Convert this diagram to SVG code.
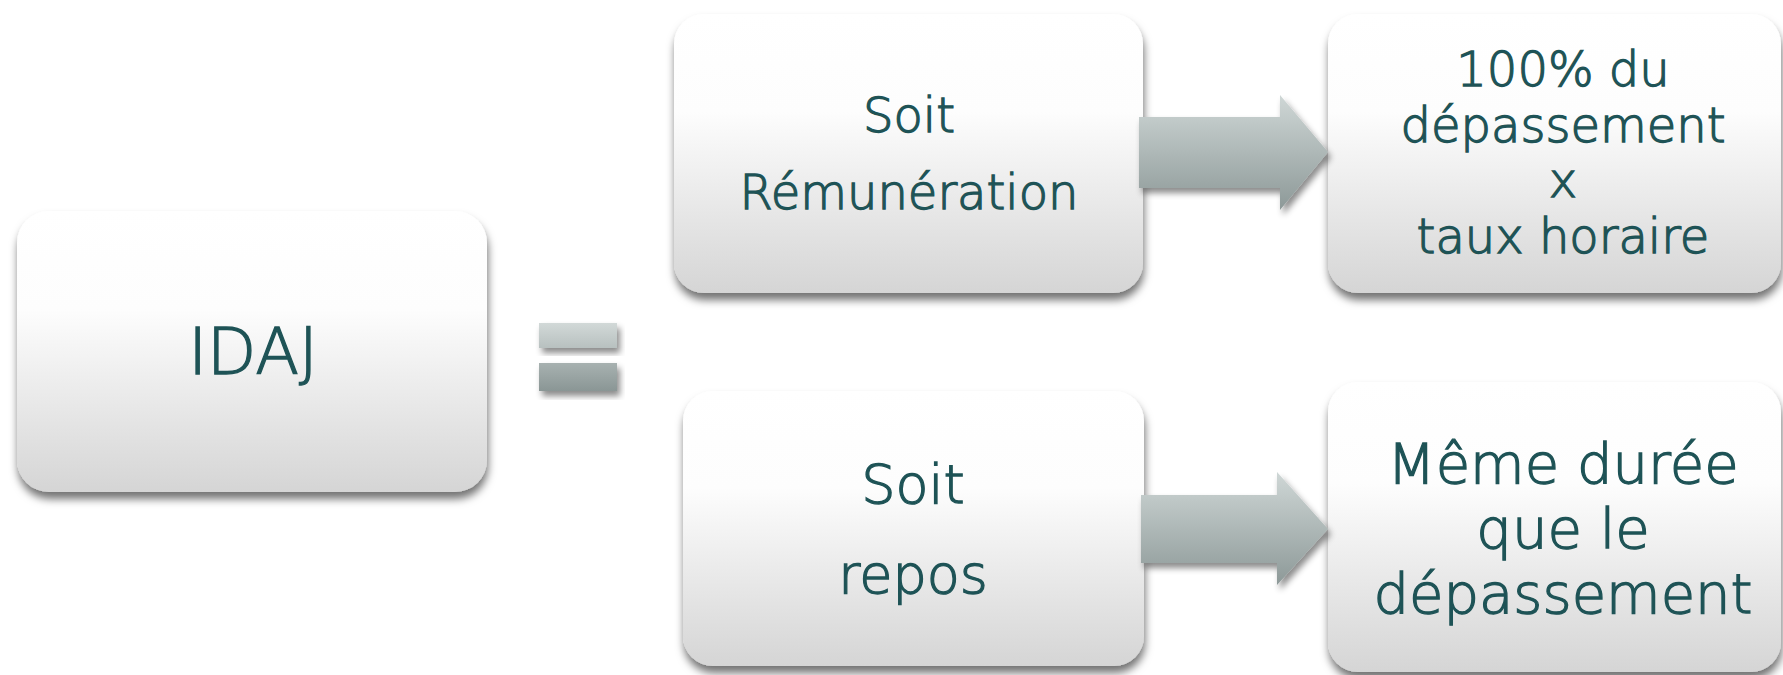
<svg xmlns="http://www.w3.org/2000/svg" width="1783" height="675" viewBox="0 0 1783 675">
  <defs>
    <linearGradient id="boxGrad" x1="0" y1="0" x2="0" y2="1">
      <stop offset="0" stop-color="#ffffff"/>
      <stop offset="0.35" stop-color="#fdfdfd"/>
      <stop offset="1" stop-color="#d5d5d5"/>
    </linearGradient>
    <linearGradient id="arrowGrad" x1="0" y1="0" x2="0" y2="1">
      <stop offset="0" stop-color="#cfd7d6"/>
      <stop offset="1" stop-color="#8d9998"/>
    </linearGradient>
    <linearGradient id="eqGrad" gradientUnits="userSpaceOnUse" x1="0" y1="323" x2="0" y2="391">
      <stop offset="0" stop-color="#d2d9d8"/>
      <stop offset="1" stop-color="#8a9695"/>
    </linearGradient>
    <filter id="shadow" x="-10%" y="-10%" width="120%" height="130%">
      <feDropShadow dx="1" dy="7" stdDeviation="4" flood-color="#000" flood-opacity="0.55"/>
    </filter>
    <filter id="ashadow" x="-10%" y="-20%" width="120%" height="150%">
      <feDropShadow dx="3" dy="5" stdDeviation="3" flood-color="#000" flood-opacity="0.45"/>
    </filter>
  </defs>
  <style>
    .box { fill: url(#boxGrad); filter: url(#shadow); }
    .arrow { fill: url(#arrowGrad); filter: url(#ashadow); }
    .eq { fill: url(#eqGrad); filter: url(#ashadow); }
    text { font-family: "DejaVu Sans", "Liberation Sans", sans-serif; font-weight: 200; fill: #1e5356; stroke: #1e5356; stroke-width: 1.3; text-anchor: middle; }
  </style>

  <g id="node-idaj">
    <rect class="box" x="17" y="211" width="470" height="281" rx="32"/>
    <text x="253" y="374" font-size="64">IDAJ</text>
  </g>

  <g id="node-equals">
    <rect class="eq" x="539" y="323" width="78" height="25"/>
    <rect class="eq" x="539" y="363" width="78" height="28"/>
  </g>

  <g id="node-remuneration">
    <rect class="box" x="674" y="14" width="469" height="279" rx="30"/>
    <text x="909" y="132" font-size="48">Soit</text>
    <text x="909" y="209" font-size="48">Rémunération</text>
  </g>

  <g id="node-repos">
    <rect class="box" x="683" y="391" width="461" height="275" rx="30"/>
    <text x="913" y="503" font-size="54">Soit</text>
    <text x="913" y="593" font-size="54">repos</text>
  </g>

  <g id="node-taux">
    <rect class="box" x="1328" y="14" width="453" height="279" rx="30"/>
    <text x="1563" y="86" font-size="48">100% du</text>
    <text x="1563" y="142" font-size="48">dépassement</text>
    <text x="1563" y="197" font-size="48">x</text>
    <text x="1563" y="253" font-size="48">taux horaire</text>
  </g>

  <g id="node-duree">
    <rect class="box" x="1328" y="382" width="453" height="290" rx="30"/>
    <text x="1563" y="483" font-size="56">Même durée</text>
    <text x="1563" y="548" font-size="56">que le</text>
    <text x="1563" y="613" font-size="56">dépassement</text>
  </g>

  <g id="connectors">
    <polygon class="arrow" points="1139,117 1280,117 1280,95 1328,152 1280,210 1280,188 1139,188"/>
    <polygon class="arrow" points="1141,495 1277,495 1277,472 1328,529 1277,585 1277,563 1141,563"/>
  </g>
</svg>
